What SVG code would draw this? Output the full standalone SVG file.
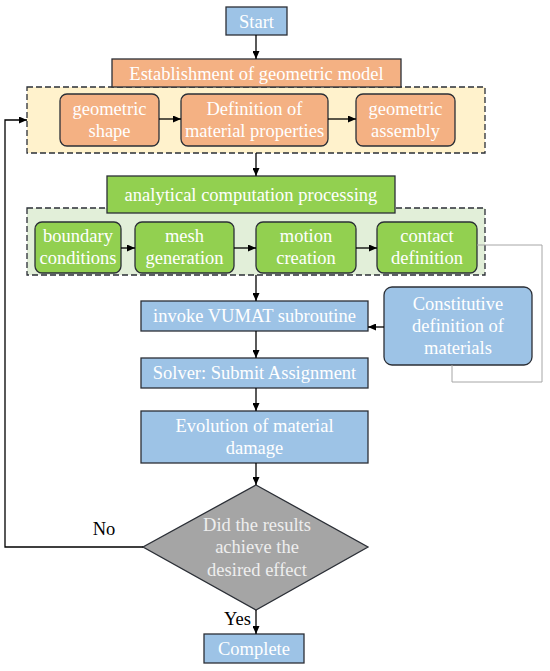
<svg xmlns="http://www.w3.org/2000/svg" width="550" height="671" viewBox="0 0 550 671">
<style>
text{font-family:"Liberation Serif","Times New Roman",serif;font-size:18.5px;fill:#ffffff;text-anchor:middle}
.lbl{fill:#000000}
.blue{fill:#9dc3e6;stroke:#2b2f36;stroke-width:1.3}
.orange{fill:#f4b183;stroke:#2b2f36;stroke-width:1.3}
.green{fill:#92d050;stroke:#2b2f36;stroke-width:1.3}
.cont{stroke:#2b2f36;stroke-width:1.3;stroke-dasharray:6 3}
.conn{fill:none;stroke:#000000;stroke-width:1.3}
</style>
<defs>
<marker id="arr" markerUnits="userSpaceOnUse" markerWidth="8" markerHeight="7" refX="8" refY="3.5" orient="auto">
<path d="M0,0 L8,3.5 L0,7 z" fill="#000000"/>
</marker>
</defs>
<g id="geom-container"><rect class="cont" x="27" y="87" width="458" height="66" fill="#fff2cc"/></g>
<g id="anal-container"><rect class="cont" x="27" y="208" width="458" height="67" fill="#e2efd9"/></g>
<g id="start"><rect class="blue" x="226" y="7" width="61" height="28"/><text x="256.5" y="27.5">Start</text></g>
<g id="establishment"><rect class="orange" x="112" y="59" width="289" height="28"/><text x="256.5" y="79.5">Establishment of geometric model</text></g>
<g id="geometric-shape"><rect class="orange" x="60" y="94" width="99" height="52" rx="7"/><text x="109.5" y="115">geometric</text><text x="109.5" y="137">shape</text></g>
<g id="material-properties"><rect class="orange" x="181" y="94" width="147" height="52" rx="7"/><text x="254.5" y="115">Definition of</text><text x="254.5" y="137">material properties</text></g>
<g id="geometric-assembly"><rect class="orange" x="356" y="94" width="99" height="52" rx="7"/><text x="405.5" y="115">geometric</text><text x="405.5" y="137">assembly</text></g>
<g id="analytical"><rect class="green" x="107" y="176" width="288" height="37"/><text x="251" y="200.5">analytical computation processing</text></g>
<g id="boundary"><rect class="green" x="35" y="222" width="86" height="51" rx="7"/><text x="78" y="242">boundary</text><text x="78" y="264">conditions</text></g>
<g id="mesh"><rect class="green" x="135" y="222" width="99" height="51" rx="7"/><text x="184.5" y="242">mesh</text><text x="184.5" y="264">generation</text></g>
<g id="motion"><rect class="green" x="256" y="222" width="100" height="51" rx="7"/><text x="306" y="242">motion</text><text x="306" y="264">creation</text></g>
<g id="contact"><rect class="green" x="377" y="222" width="100" height="51" rx="7"/><text x="427" y="242">contact</text><text x="427" y="264">definition</text></g>
<g id="vumat"><rect class="blue" x="141" y="301" width="227" height="30"/><text x="254.5" y="322">invoke VUMAT subroutine</text></g>
<g id="constitutive"><rect class="blue" x="384" y="287" width="148" height="78" rx="8"/><text x="458" y="310">Constitutive</text><text x="458" y="332">definition of</text><text x="458" y="354">materials</text></g>
<g id="solver"><rect class="blue" x="141" y="358" width="227" height="30"/><text x="254.5" y="379">Solver: Submit Assignment</text></g>
<g id="evolution"><rect class="blue" x="141" y="411" width="227" height="52"/><text x="254.5" y="432">Evolution of material</text><text x="254.5" y="454">damage</text></g>
<g id="decision"><polygon points="256,485 368,547 256,610 143,547" fill="#a5a5a5" stroke="#2b2f36" stroke-width="1.3"/><text x="257" y="531" style="fill:#eeeeee">Did the results</text><text x="257" y="553" style="fill:#eeeeee">achieve the</text><text x="257" y="576" style="fill:#eeeeee">desired effect</text></g>
<g id="complete"><rect class="blue" x="204" y="634" width="100" height="29"/><text x="254" y="655">Complete</text></g>
<g id="connectors">
<path class="conn" d="M256,35 V59" marker-end="url(#arr)"/>
<path class="conn" d="M159,119 H181" marker-end="url(#arr)"/>
<path class="conn" d="M328,119 H356" marker-end="url(#arr)"/>
<path class="conn" d="M256,153 V176" marker-end="url(#arr)"/>
<path class="conn" d="M121,248 H135" marker-end="url(#arr)"/>
<path class="conn" d="M234,248 H256" marker-end="url(#arr)"/>
<path class="conn" d="M356,248 H377" marker-end="url(#arr)"/>
<path class="conn" d="M256,275 V301" marker-end="url(#arr)"/>
<path class="conn" d="M384,327 H368" marker-end="url(#arr)"/>
<path class="conn" d="M256,331 V358" marker-end="url(#arr)"/>
<path class="conn" d="M256,388 V411" marker-end="url(#arr)"/>
<path class="conn" d="M256,463 V485" marker-end="url(#arr)"/>
<path class="conn" d="M256,610 V634" marker-end="url(#arr)"/>
<path class="conn" d="M143,547 H5 V120 H27" marker-end="url(#arr)"/>
<path d="M477,245 H542 V382 H452 V365" fill="none" stroke="#a6a6a6" stroke-width="1"/>
<text class="lbl" x="104" y="535">No</text>
<text class="lbl" x="251" y="625" style="text-anchor:end">Yes</text>
</g>
</svg>
